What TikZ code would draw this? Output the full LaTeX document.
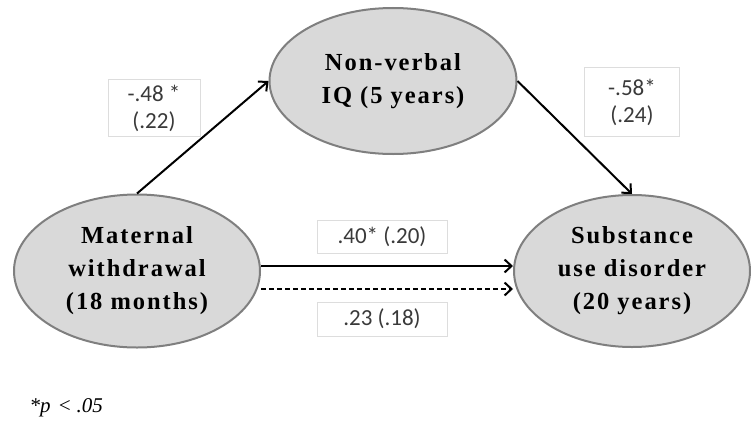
\documentclass[tikz,border=0pt]{standalone}
\usepackage{fontspec}
\setmainfont{Liberation Serif}
\newfontfamily\labelfont{Carlito}
\newfontfamily\ovalfont[LetterSpace=8]{Liberation Serif}
\usetikzlibrary{shapes.geometric,arrows.meta}
\definecolor{ovalfill}{HTML}{D9D9D9}
\definecolor{ovalline}{HTML}{7F7F7F}
\definecolor{boxline}{HTML}{DDDDDD}
\definecolor{boxtext}{HTML}{3A3A3A}

\begin{document}
\begin{tikzpicture}[x=1pt, y=-1pt,
    oval/.style={ellipse, draw=ovalline, fill=ovalfill, line width=2pt, align=center, inner sep=0pt,
      font=\ovalfont\bfseries\fontsize{24.5}{33}\selectfont},
    coef/.style={draw=boxline, fill=white, line width=1pt, align=center, inner sep=0pt, text=boxtext,
      font=\labelfont\fontsize{23}{27}\selectfont},
    link/.style={line width=2pt, -{Straight Barb[length=7pt,width=13pt]}}]
    \useasboundingbox (0, 0) rectangle (751, 428);

    % Variables
    \node [oval, minimum width=246pt, minimum height=153pt] (mat) at (137, 271) {Maternal\\withdrawal\\(18 months)};
    \node [oval, minimum width=247pt, minimum height=146pt] (iq) at (393, 81) {Non-verbal\\IQ (5 years)};
    \node [oval, minimum width=236pt, minimum height=152pt] (sud) at (632, 271) {Substance\\use disorder\\(20 years)};

    % Paths
    \draw [link] (mat.north) -- (iq.west);
    \draw [link] (iq.east) -- (sud.north);
    \draw [link] ([yshift=5pt]mat.east) -- ([yshift=5pt]sud.west);
    \draw [link, dash pattern=on 5pt off 3pt] ([yshift=-18pt]mat.east) -- ([yshift=-18pt]sud.west);

    % Coefficients
    \node [coef, minimum width=92pt, minimum height=57pt] (c1) at (154, 108) {-.48 *\\(.22)};
    \node [coef, minimum width=95pt, minimum height=69pt] (c2) at (632, 102) {-.58*\\(.24)};
    \node [coef, minimum width=130pt, minimum height=33pt] (c3) at (382, 237) {.40* (.20)};
    \node [coef, minimum width=130pt, minimum height=34pt] (c4) at (382, 319) {.23 (.18)};

    \node [anchor=west, font=\fontsize{21}{24}\selectfont] (note) at (26, 408) {\itshape *p\hspace{7pt}<\hspace{5pt}.05};
  \end{tikzpicture}
\end{document}
